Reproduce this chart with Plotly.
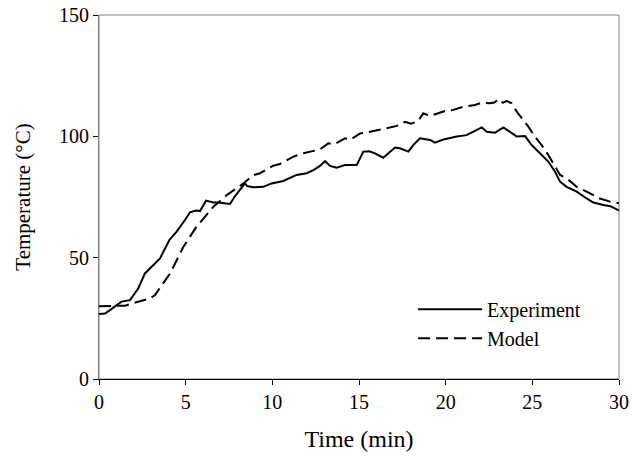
import plotly.graph_objects as go

exp_t = [0.0, 0.35, 0.63, 1.3, 1.79, 2.27, 2.65, 3.13, 3.52, 4.06, 4.48, 4.96, 5.25, 5.6, 5.83, 6.17, 6.6, 6.88,
         7.17, 7.56, 7.85, 8.23, 8.42, 8.55, 8.9, 9.48, 9.96, 10.63, 11.1, 11.4, 11.98, 12.37, 12.75, 13.04, 13.33,
         13.71, 14.19, 14.87, 15.25, 15.6, 15.92, 16.4, 17.08, 17.4, 17.85, 18.13, 18.52, 19.1, 19.38, 19.87,
         20.64, 21.2, 21.6, 22.08, 22.37, 22.85, 23.33, 23.71, 24.1, 24.58, 24.96, 25.44, 25.92, 26.31, 26.6,
         26.98, 27.56, 28.13, 28.52, 29.1, 29.5, 29.87, 30.0]
exp_T = [26.8, 27.0, 28.4, 31.9, 32.5, 37.4, 43.5, 47.0, 49.7, 57.3, 60.7, 65.5, 68.7, 69.4, 69.2, 73.5, 72.7, 72.7,
         72.4, 72.1, 75.4, 79.2, 80.6, 79.5, 79.0, 79.2, 80.6, 81.6, 83.1, 84.1, 84.8, 86.1, 87.8, 89.8, 87.8,
         87.1, 88.2, 88.2, 93.7, 93.8, 93.0, 91.2, 95.4, 95.0, 93.7, 96.4, 99.2, 98.5, 97.4, 98.7,
         99.9, 100.5, 101.9, 103.7, 101.9, 101.5, 103.7, 101.9, 99.9, 100.1, 96.4, 93.0, 89.6, 85.4, 81.3,
         79.2, 77.2, 74.4, 72.7, 71.7, 71.2, 69.9, 69.5]

mod_t = [0.0, 1.5, 1.96, 2.94, 3.23, 3.52, 4.1, 4.87, 5.63, 6.6, 7.37, 7.94, 8.33, 8.9, 9.29, 10.06, 10.44, 11.21,
         11.79, 12.75, 13.23, 13.6, 14.19, 14.5, 15.06, 15.4, 15.92, 16.4, 17.18, 17.65, 18.0, 18.4, 18.71, 19.1,
         19.58, 19.87, 20.44, 21.02, 21.69, 22.08, 22.56, 22.8, 23.08, 23.3, 23.52, 23.81, 24.1, 24.48, 24.77,
         25.15, 25.54, 25.92, 26.31, 26.6, 26.98, 27.56, 28.13, 28.9, 29.48, 30.0]
mod_T = [30.0, 30.2, 31.2, 33.2, 34.6, 37.4, 43.5, 54.5, 62.8, 71.0, 75.8, 78.6, 80.6, 84.0, 84.8, 87.9, 88.6, 91.6,
         93.0, 94.6, 97.1, 96.8, 99.2, 98.6, 101.2, 101.5, 102.3, 103.3, 104.3, 106.0, 105.2, 106.2, 109.5, 108.4,
         109.5, 110.2, 110.9, 112.2, 112.9, 113.9, 113.6, 113.9, 115.4, 113.8, 114.6, 113.6, 110.2, 106.7, 104.0,
         99.9, 96.4, 92.3, 87.5, 84.1, 82.7, 79.2, 77.2, 74.4, 73.1, 72.4]

x_ticks = [0, 5, 10, 15, 20, 25, 30]
y_ticks = [0, 50, 100, 150]

FONT = "Liberation Serif, Times New Roman, serif"

fig = go.Figure()
fig.add_trace(go.Scatter(x=exp_t, y=exp_T, mode="lines", name="Experiment",
                         line=dict(color="black", width=2)))
fig.add_trace(go.Scatter(x=mod_t, y=mod_T, mode="lines", name="Model",
                         line=dict(color="black", width=2, dash="12px,6px")))

fig.update_layout(
    width=632, height=461,
    margin=dict(l=99, r=13, t=15, b=82),
    paper_bgcolor="white", plot_bgcolor="white",
    font=dict(family=FONT, size=20, color="black"),
    showlegend=True,
    legend=dict(x=0.604, y=0.245, xanchor="left", yanchor="top",
                bgcolor="rgba(0,0,0,0)", itemwidth=64,
                font=dict(family=FONT, size=20), tracegroupgap=0),
    xaxis=dict(range=[0, 30], tickvals=x_ticks, ticks="outside", ticklen=5, tickcolor="black",
               showline=True, linecolor="black", linewidth=1, showgrid=False, zeroline=False,
               automargin=False,
               title=dict(text="Time (min)", standoff=18), tickfont=dict(size=20)),
    yaxis=dict(range=[0, 150], tickvals=y_ticks, ticks="outside", ticklen=5, tickcolor="black",
               showline=True, linecolor="#808080", linewidth=1, showgrid=False, zeroline=False,
               automargin=False,
               title=dict(text="Temperature (°C)", standoff=22, font=dict(size=21)), tickfont=dict(size=20)),
    shapes=[dict(type="rect", xref="paper", yref="paper", x0=0, y0=0, x1=1, y1=1,
                 line=dict(color="#808080", width=1), layer="below")],
)

fig.write_html("out.html")
